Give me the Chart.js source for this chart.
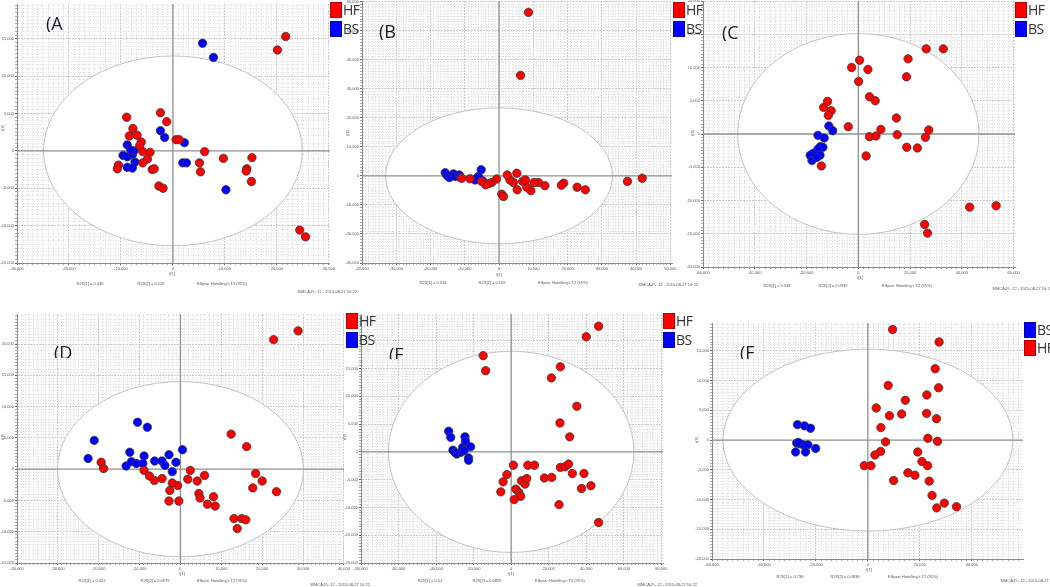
<!DOCTYPE html>
<html>
<head>
<meta charset="utf-8">
<script src="https://cdn.jsdelivr.net/npm/chart.js@4.4.1/dist/chart.umd.min.js"></script>
<style>
  body { margin: 0; background: #fff; }
  #fig { position: relative; width: 1050px; height: 587px; overflow: hidden; font-family: "Open Sans", sans-serif; }
  canvas { position: absolute; }
  .tag { position: absolute; overflow: hidden; font-size: 18px; line-height: 18px; color: #1b1b2c; z-index: 5; }
  .sq { position: absolute; width: 12px; height: 16px; box-sizing: border-box; border: 1px solid rgba(0,0,0,0.25); z-index: 6; }
  .lt { position: absolute; font-size: 14px; line-height: 16px; color: #333; letter-spacing: -0.5px; z-index: 6; }
  .note { position: absolute; white-space: nowrap; font-family: "Liberation Sans", sans-serif; font-size: 8px; color: #555; z-index: 4; }
</style>
</head>
<body>
<div id="fig">
  <canvas id="cA"></canvas><canvas id="cB"></canvas><canvas id="cC"></canvas>
  <canvas id="cD"></canvas><canvas id="cE"></canvas><canvas id="cF"></canvas>
</div>
<script>
// --- score values (t[1], t[2]) ---
const hfA = [[21700,15300],[20100,13500],[24400,-10600],[25500,-11500],[-8900,4500],[-2400,5100],[-1200,3900],[-7700,3000],[-8400,2000],[-6900,2100],[-6100,1200],[-6400,700],[-5800,-100],[-4400,-200],[-4900,-1100],[-5800,-1600],[-10500,-1900],[-10700,-2400],[-4000,-2500],[-3600,-2400],[-2700,-4700],[-1900,-5000],[600,1500],[1200,1500],[6100,-100],[5100,-1600],[5300,-2800],[9700,-1000],[15200,-900],[14200,-2400],[14100,-2700],[15100,-4100]];
const bsA = [[5700,14400],[7800,12500],[-2400,2700],[-1600,1800],[2200,1100],[1900,-1600],[2600,-1600],[10200,-5200],[-8800,800],[-9600,-600],[-8800,-800],[-7800,-500],[-7500,0],[-7300,-1500],[-8800,-2200],[-7800,-2300],[-8100,100]];

const hfB = [[8600,56300],[6300,34600],[41800,-800],[37500,-1900],[25200,-4800],[22800,-3900],[18900,-2500],[18200,-3200],[13400,-3400],[11500,-2300],[10200,-2300],[9300,-5100],[8100,-3900],[6900,-1900],[5200,900],[5300,-4800],[4200,-2300],[3200,-1400],[2400,300],[800,-6300],[1300,-7100],[-700,-1100],[-2100,-2300],[-3100,-2700],[-3900,-3100],[-5100,-1900],[-8500,-1000],[-10900,-800],[7700,-1400]];
const bsB = [[-15700,1100],[-15200,100],[-14500,-600],[-13300,700],[-12800,-200],[-11600,300],[-11200,-600],[-5200,2100],[-6500,-800],[-7000,-1400],[-4800,-1700],[-6000,-200]];

const hfC = [[26200,12800],[32800,12800],[19200,11300],[18600,8600],[500,11100],[-2600,10000],[3700,9700],[100,7900],[4300,5600],[6500,5000],[-11900,4900],[-13400,4000],[-10500,3500],[-11600,2800],[-3900,1100],[8700,700],[6800,-300],[4300,-400],[14700,2400],[15000,-100],[27200,600],[25900,-500],[18700,-2000],[22800,-2100],[3000,-3300],[-14300,-4800],[43000,-11000],[53200,-10800],[25600,-13600],[26700,-14900]];
const bsC = [[-11400,1200],[-9900,500],[-15600,-200],[-13200,-600],[-14700,-1900],[-13700,-2000],[-15600,-2300],[-17400,-2900],[-18600,-3200],[-14800,-3200],[-17900,-4000],[-16000,-3500]];

const hfD = [[28800,22100],[22800,20700],[12400,5600],[16200,3600],[18400,-700],[20000,-1900],[17700,-3000],[23500,-3600],[13100,-7900],[13900,-9500],[15000,-7900],[16000,-8100],[2400,-200],[1800,-1600],[4100,-1900],[5900,-1000],[4500,-3900],[4800,-4600],[8100,-4400],[8500,-5900],[6600,-5600],[-700,-2600],[-2000,-2200],[-2600,-3400],[-2800,-5100],[-400,-5100],[-4500,-1500],[-6400,-1800],[-7600,-1100],[-8900,-200],[-19400,1100],[-18800,100]];
const bsD = [[-10500,7500],[-8100,6700],[-21100,4600],[-22600,1700],[-12400,2700],[-8900,2100],[-13300,500],[-12000,1200],[-10800,900],[-6300,1300],[-4500,1300],[-3800,600],[-2800,2300],[-1100,1100],[-2000,-400],[500,3100],[-9200,900]];

const hfE = [[46600,22600],[40000,20700],[-14900,17300],[-13600,14600],[26200,15300],[21400,13300],[35000,8200],[26000,5200],[31200,2700],[1200,-2400],[8900,-2400],[12400,-2400],[-2300,-4100],[-4300,-5400],[-5500,-7200],[1600,-8600],[2500,-6700],[4100,-7300],[5100,-8000],[5500,-5200],[7400,-5800],[8300,-4800],[17700,-4700],[21600,-4600],[26200,-2800],[28700,-2700],[30600,-2200],[32600,-3900],[38800,-3900],[37500,-6600],[42500,-6100],[25500,-9500],[46600,-12700]];
const bsE = [[-33300,3700],[-32200,2600],[-31000,300],[-29000,-400],[-26900,-100],[-25800,800],[-24600,2700],[-24300,1900],[-21600,900],[-22700,-1100],[-22700,-1500],[-29900,-100],[-25100,200]];

const hfF = [[9500,18600],[27400,16500],[25900,12000],[27200,8800],[7800,9200],[22700,7600],[14400,6700],[3200,5400],[8300,4100],[13000,4400],[22600,4500],[26400,3600],[5000,2100],[23100,300],[26800,-200],[6800,-300],[4900,-1900],[2700,-2500],[19200,-2000],[20800,-3600],[23000,-4300],[-1400,-4300],[1200,-4300],[15400,-5500],[18100,-5900],[9900,-6800],[23600,-6900],[24700,-9300],[29400,-10600],[26500,-11400],[34100,-11200]];
const bsF = [[-27100,2600],[-24400,2400],[-22100,2000],[-27400,-500],[-26200,-600],[-24900,-800],[-23100,-800],[-20100,-1400],[-27800,-2000],[-24000,-2000],[-26800,-400]];

// Hotelling's T2 (95%) ellipse half-widths [t1, t2]
const ellipseA = [24900, 12700];
const ellipseB = [33100, 23400];
const ellipseC = [46600, 15100];
const ellipseD = [30100, 14000];
const ellipseE = [65400, 18100];
const ellipseF = [55800, 15300];

// explained variance per component
const r2xLabels = {
  A: ['R2X[1] = 0.436', 'R2X[2] = 0.129'],
  B: ['R2X[1] = 0.316', 'R2X[2] = 0.109'],
  C: ['R2X[1] = 0.338', 'R2X[2] = 0.0939'],
  D: ['R2X[1] = 0.422', 'R2X[2] = 0.0979'],
  E: ['R2X[1] = 0.51', 'R2X[2] = 0.0859'],
  F: ['R2X[1] = 0.738', 'R2X[2] = 0.0838']
};

Chart.defaults.font.family = '"Liberation Sans", sans-serif';

const fig = document.getElementById('fig');
const Y_W = 17, X_H = 10, PAD_T = 4, PAD_R = 6;

// ellipse + zero lines, drawn over the grid and under the points
const hotelling = {
  id: 'hotelling',
  beforeDatasetsDraw(chart, args, opts) {
    const { ctx, chartArea: a, scales: { x, y } } = chart;
    const cx = x.getPixelForValue(0), cy = y.getPixelForValue(0);
    const rx = x.getPixelForValue(opts.r[0]) - cx;
    const ry = cy - y.getPixelForValue(opts.r[1]);
    ctx.save();
    ctx.beginPath();
    ctx.rect(a.left, a.top, a.width, a.height);
    ctx.clip();
    ctx.beginPath();
    ctx.ellipse(cx, cy, rx, ry, 0, 0, Math.PI * 2);
    ctx.fillStyle = '#fff';
    ctx.fill();
    ctx.strokeStyle = '#c2c2c2';
    ctx.lineWidth = 1;
    ctx.stroke();
    ctx.strokeStyle = '#909090';
    ctx.lineWidth = 1.3;
    ctx.beginPath();
    ctx.moveTo(a.left, cy); ctx.lineTo(a.right, cy);
    ctx.moveTo(cx, a.top); ctx.lineTo(cx, a.bottom);
    ctx.stroke();
    ctx.restore();
  }
};

const isMajor = (v, major) => Math.abs(v / major - Math.round(v / major)) < 1e-6;

function axis(pos, min, max, major) {
  const minor = major / 10;
  return {
    type: 'linear', position: pos, min, max,
    afterFit: s => { if (pos === 'left') s.width = Y_W; else s.height = X_H; },
    afterBuildTicks: s => {
      const t = [];
      for (let v = Math.ceil(min / minor) * minor; v <= max + 1e-6; v += minor) t.push({ value: Math.round(v) });
      s.ticks = t;
    },
    ticks: {
      autoSkip: false, maxRotation: 0, minRotation: 0,
      padding: 1, color: '#555', font: { size: 4 },
      callback: v => isMajor(v, major) ? Math.round(v).toLocaleString('en-US') : ''
    },
    grid: {
      lineWidth: 1, tickLength: 2,
      color: c => (c.tick && isMajor(c.tick.value, major)) ? '#cbcbcb' : '#dcdcdc',
      tickColor: c => (c.tick && isMajor(c.tick.value, major)) ? '#666' : '#aaa'
    },
    border: {
      color: '#8a8a8a', width: 1,
      dash: c => (c.tick && isMajor(c.tick.value, major)) ? [2, 1] : [1, 1.5]
    }
  };
}

function panel(id, box, xr, yr, hf, bs, ell) {
  const [L, T, R, B] = box;
  const cv = document.getElementById(id);
  cv.width = Math.round(R - L) + Y_W + PAD_R;
  cv.height = Math.round(B - T) + PAD_T + X_H;
  cv.style.left = Math.round(L - Y_W) + 'px';
  cv.style.top = Math.round(T - PAD_T) + 'px';
  const pt = (color) => ({
    backgroundColor: color, borderColor: '#3a3a3a', borderWidth: 0.8,
    pointRadius: 4.2, pointHoverRadius: 4.2
  });
  new Chart(cv, {
    type: 'scatter',
    data: {
      datasets: [
        Object.assign({ label: 'HF', data: hf.map(p => ({ x: p[0], y: p[1] })) }, pt('#ff0000')),
        Object.assign({ label: 'BS', data: bs.map(p => ({ x: p[0], y: p[1] })) }, pt('#0000ff'))
      ]
    },
    options: {
      responsive: false, animation: false, events: [],
      layout: { padding: { top: PAD_T, right: PAD_R, left: 0, bottom: 0 } },
      scales: { x: axis('bottom', xr[0], xr[1], xr[2]), y: axis('left', yr[0], yr[1], yr[2]) },
      plugins: { legend: { display: false }, tooltip: { enabled: false }, hotelling: { r: ell } }
    },
    plugins: [hotelling]
  });
}

panel('cA', [17, 3, 330, 263], [-30000, 30200, 10000], [-15000, 19650, 5000], hfA, bsA, ellipseA);
panel('cB', [362, 0, 672, 263], [-40000, 50500, 10000], [-30000, 60200, 10000], hfB, bsB, ellipseB);
panel('cC', [703, 0, 1015, 267], [-60000, 60500, 20000], [-20000, 20000, 5000], hfC, bsC, ellipseC);
panel('cD', [17, 313, 345, 563], [-40000, 40000, 10000], [-15000, 24800, 5000], hfD, bsD, ellipseD);
panel('cE', [361, 313, 663, 563], [-80000, 80900, 20000], [-20000, 24800, 5000], hfE, bsE, ellipseE);
panel('cF', [712, 322, 1023, 559], [-60000, 59700, 20000], [-20000, 19700, 5000], hfF, bsF, ellipseF);

// panel tags, clipped like the source images
function tag(text, x, y, h) {
  const d = document.createElement('div');
  d.className = 'tag';
  d.textContent = text;
  d.style.left = x + 'px'; d.style.top = y + 'px';
  if (h) d.style.height = h + 'px';
  fig.appendChild(d);
}
tag('(A', 46, 14); tag('(B', 379, 22); tag('(C', 722, 23);
tag('(D', 54, 343, 15); tag('(E', 389, 345, 14); tag('(F', 740, 343, 16);

// legends
function legend(x, items) {
  items.forEach(([label, color, y]) => {
    const s = document.createElement('div');
    s.className = 'sq';
    s.style.left = x + 'px'; s.style.top = y + 'px'; s.style.background = color;
    fig.appendChild(s);
    const t = document.createElement('div');
    t.className = 'lt';
    t.textContent = label;
    t.style.left = (x + 13) + 'px'; t.style.top = y + 'px';
    fig.appendChild(t);
  });
}
legend(330, [['HF', '#ff0000', 2], ['BS', '#0000ff', 21]]);
legend(673, [['HF', '#ff0000', 2], ['BS', '#0000ff', 21]]);
legend(1015, [['HF', '#ff0000', 2], ['BS', '#0000ff', 21]]);
legend(346, [['HF', '#ff0000', 313], ['BS', '#0000ff', 332]]);
legend(663, [['HF', '#ff0000', 313], ['BS', '#0000ff', 332]]);
legend(1024, [['BS', '#0000ff', 322], ['HF', '#ff0000', 340]]);

// small captions under each score plot
function note(text, cx, cy, rot) {
  const d = document.createElement('div');
  d.className = 'note';
  d.textContent = text;
  d.style.left = cx + 'px'; d.style.top = cy + 'px';
  d.style.transform = 'translate(-50%,-50%) scale(0.5)' + (rot ? ' rotate(-90deg)' : '');
  fig.appendChild(d);
}
const captionRows = [
  // key, t1 x/y, row y, r2x1 x, r2x2 x, ellipse x, footer x/y, t2 x/y
  ['A', 172, 274, 284, 90, 151, 222, 327, 292, 3, 128],
  ['B', 499, 275, 283, 433, 492, 563, 668, 285, 348, 133],
  ['C', 860, 278, 286, 777, 833, 907, 1022, 289, 693, 133],
  ['D', 182, 574, 581, 92, 155, 222, 340, 585, 3, 437],
  ['E', 511, 574, 581, 430, 487, 560, 667, 585, 345, 437],
  ['F', 869, 570, 577, 790, 845, 913, 1030, 581, 697, 440]
];
captionRows.forEach(([k, tx, ty, ry, r1, r2, ex, fx, fy, vx, vy]) => {
  note('t[1]', tx, ty);
  note(r2xLabels[k][0], r1, ry);
  note(r2xLabels[k][1], r2, ry);
  note("Ellipse: Hotelling's T2 (95%)", ex, ry);
  note('SIMCA-P+ 12 - 2015-08-27 10:22', fx, fy);
  note('t[2]', vx, vy, true);
});
</script>
</body>
</html>
